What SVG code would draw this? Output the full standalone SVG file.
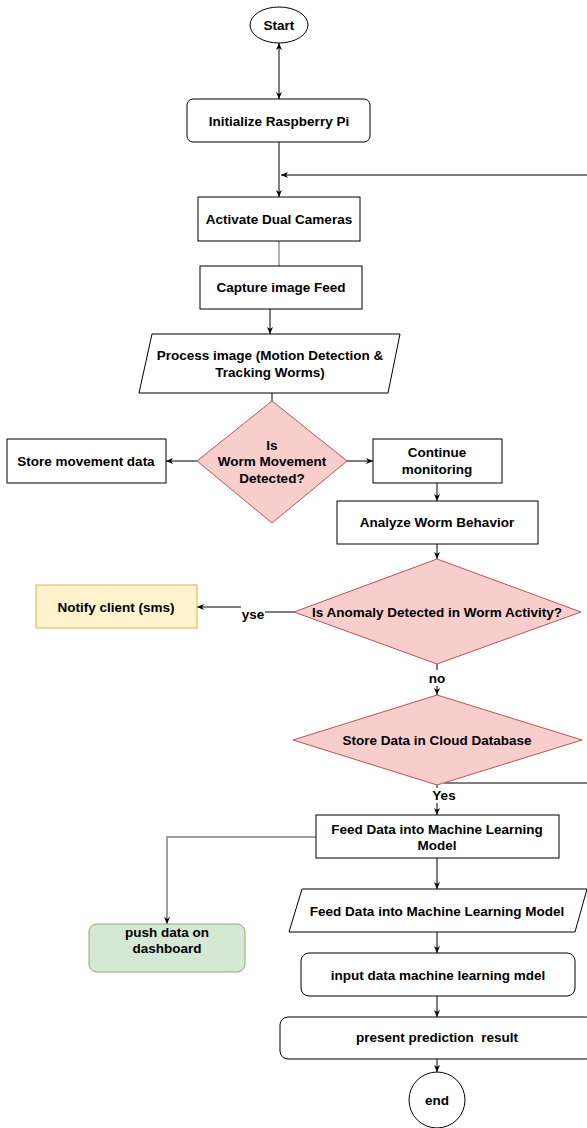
<svg xmlns="http://www.w3.org/2000/svg" width="587" height="1128" viewBox="0 0 587 1128">
<style>
  text { font-family: "Liberation Sans", Arial, sans-serif; font-weight: bold; font-size: 13.5px; fill: #000; text-anchor: middle; dominant-baseline: central; }
  .box { fill: #fff; stroke: #000; stroke-width: 1; }
  .dec { fill: #f8cecc; stroke: #b85450; stroke-width: 1; }
  .note { fill: #fff2cc; stroke: #d6b656; stroke-width: 1; }
  .green { fill: #d5e8d4; stroke: #82b366; stroke-width: 1; }
  .edge { fill: none; stroke: #000; stroke-width: 1; }
  .gray { fill: none; stroke: #808080; stroke-width: 1.5; }
  .thin { fill: none; stroke: #666; stroke-width: 1; }
</style>
<defs>
  <marker id="arr" markerUnits="userSpaceOnUse" markerWidth="8" markerHeight="8" viewBox="0 0 8 8" refX="7" refY="4" orient="auto">
    <path d="M0,1 L7,4 L0,7 L2,4 Z" fill="#000"/>
  </marker>
  <marker id="arrs" markerUnits="userSpaceOnUse" markerWidth="8" markerHeight="8" viewBox="0 0 8 8" refX="7" refY="4" orient="auto-start-reverse">
    <path d="M0,1 L7,4 L0,7 L2,4 Z" fill="#000"/>
  </marker>
</defs>
<rect width="587" height="1128" fill="#fff"/>

<g id="connectors">
  <path class="edge" d="M279,43 L279,99" marker-start="url(#arrs)" marker-end="url(#arrs)"/>
  <path class="edge" d="M279,142 L279,197" marker-end="url(#arr)"/>
  <path class="edge" d="M444,783 L600,783 L600,175 L281,175" marker-end="url(#arr)"/>
  <path class="thin" d="M279,241 L279,266"/>
  <path class="edge" d="M270,309 L270,334" marker-end="url(#arr)"/>
  <path class="edge" d="M272,393 L272,401"/>
  <path class="edge" d="M197,461 L166,461" marker-end="url(#arr)"/>
  <path class="edge" d="M347,461 L373,461" marker-end="url(#arr)"/>
  <path class="edge" d="M437,483 L437,501" marker-end="url(#arr)"/>
  <path class="edge" d="M437,544 L437,559" marker-end="url(#arr)"/>
  <path class="edge" d="M294,612 L265,612"/>
  <path class="edge" d="M241,607 L197,607" marker-end="url(#arr)"/>
  <text x="253" y="614">yse</text>
  <path class="edge" d="M437,664 L437,670"/>
  <text x="437" y="678">no</text>
  <path class="edge" d="M437,686 L437,695" marker-end="url(#arr)"/>
  <path class="edge" d="M437,785 L437,788"/>
  <text x="444" y="795">Yes</text>
  <path class="edge" d="M437,803 L437,815" marker-end="url(#arr)"/>
  <path class="gray" d="M316,837 L167,837 L167,924" marker-end="url(#arr)"/>
  <path class="edge" d="M437,858 L437,889" marker-end="url(#arr)"/>
  <path class="edge" d="M437,932 L437,953" marker-end="url(#arr)"/>
  <path class="edge" d="M437,996 L437,1017" marker-end="url(#arr)"/>
  <path class="edge" d="M437,1059 L437,1072" marker-end="url(#arr)"/>
</g>

<g id="start">
  <ellipse class="box" cx="279" cy="25" rx="29" ry="18"/>
  <text x="279" y="25">Start</text>
</g>
<g id="init">
  <rect class="box" x="187" y="99" width="183" height="43" rx="6"/>
  <text x="279" y="121">Initialize Raspberry Pi</text>
</g>
<g id="activate">
  <rect class="box" x="198" y="197" width="162" height="44"/>
  <text x="279" y="219">Activate Dual Cameras</text>
</g>
<g id="capture">
  <rect class="box" x="200" y="266" width="162" height="43"/>
  <text x="281" y="287">Capture image Feed</text>
</g>
<g id="process">
  <polygon class="box" points="152,334 400,334 388,393 139,393"/>
  <text x="270" y="355">Process image (Motion Detection &amp;</text>
  <text x="270" y="372">Tracking Worms)</text>
</g>
<g id="decision1">
  <polygon class="dec" points="272,401 347,461 272,523 197,461"/>
  <text x="272" y="445">Is</text>
  <text x="272" y="461">Worm Movement</text>
  <text x="272" y="478">Detected?</text>
</g>
<g id="store-movement">
  <rect class="box" x="7" y="439" width="159" height="44"/>
  <text x="86" y="461">Store movement data</text>
</g>
<g id="continue">
  <rect class="box" x="373" y="439" width="129" height="44"/>
  <text x="437" y="452">Continue</text>
  <text x="437" y="469">monitoring</text>
</g>
<g id="analyze">
  <rect class="box" x="337" y="501" width="201" height="43"/>
  <text x="437" y="522">Analyze Worm Behavior</text>
</g>
<g id="decision2">
  <polygon class="dec" points="437,559 581,612 437,664 294,612"/>
  <text x="437" y="612">Is Anomaly Detected in Worm Activity?</text>
</g>
<g id="notify">
  <rect class="note" x="36" y="585" width="161" height="43"/>
  <text x="116" y="607">Notify client (sms)</text>
</g>
<g id="decision3">
  <polygon class="dec" points="437,695 582,740 437,785 293,740"/>
  <text x="437" y="740">Store Data in Cloud Database</text>
</g>
<g id="feed">
  <rect class="box" x="316" y="815" width="243" height="43"/>
  <text x="437" y="829">Feed Data into Machine Learning</text>
  <text x="437" y="845">Model</text>
</g>
<g id="dashboard">
  <rect class="green" x="89" y="924" width="156" height="48" rx="8"/>
  <text x="167" y="932">push data on</text>
  <text x="167" y="948">dashboard</text>
</g>
<g id="feed-io">
  <polygon class="box" points="302,889 587,889 575,932 289,932"/>
  <text x="437" y="911">Feed Data into Machine Learning Model</text>
</g>
<g id="input">
  <rect class="box" x="301" y="953" width="274" height="43" rx="8"/>
  <text x="438" y="975">input data machine learning mdel</text>
</g>
<g id="present">
  <rect class="box" x="280" y="1017" width="314" height="42" rx="8"/>
  <text x="437" y="1037" xml:space="preserve">present prediction  result</text>
</g>
<g id="end">
  <circle class="box" cx="437" cy="1100" r="28"/>
  <text x="437" y="1100">end</text>
</g>
</svg>
